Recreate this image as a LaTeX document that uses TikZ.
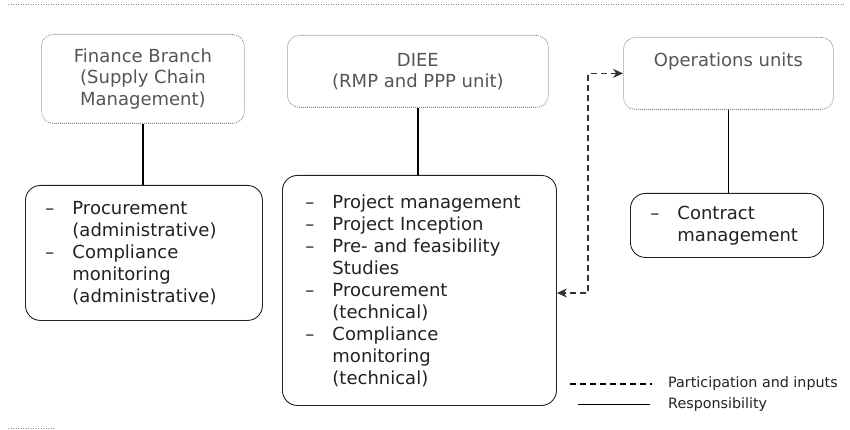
\documentclass[tikz,border=0pt]{standalone}
\usepackage{fontspec}
\setmainfont{DejaVu Sans}
\usetikzlibrary{arrows.meta,calc}

\definecolor{headink}{HTML}{555555}
\definecolor{headrule}{HTML}{8A8A8A}
\definecolor{bodyink}{HTML}{222222}

\newlength{\dashgap}
\setlength{\dashgap}{27pt}
\newcommand{\itemdash}{\makebox[\dashgap][l]{–}}
\newcommand{\itemcont}{\hspace*{\dashgap}}

\tikzset{
  unitbox/.style={draw=headrule, dash pattern=on 1pt off 1pt, line width=0.8pt,
    rounded corners=12pt, align=center, text=headink, anchor=north west,
    font=\fontsize{18}{21.5}\selectfont, inner sep=0pt},
  dutybox/.style={draw=bodyink, line width=0.9pt, rounded corners=15pt,
    align=left, anchor=north west, text=bodyink,
    font=\fontsize{18}{22}\selectfont, inner ysep=0pt},
  duty/.style={line width=1.4pt, draw=black},
  inputs/.style={line width=1.1pt, draw=black!80, dash pattern=on 6pt off 4pt,
    {Stealth[length=10pt,width=9pt]}-{Stealth[length=10pt,width=9pt]}},
  keytext/.style={anchor=west, text=bodyink, font=\fontsize{14.3}{16}\selectfont, inner sep=0pt},
  pagerule/.style={draw=headrule, dash pattern=on 1pt off 1.5pt, line width=0.6pt}
}

\begin{document}
\begin{tikzpicture}[x=1pt, y=-1pt]
\useasboundingbox (0,0) rectangle (850,430);

% page rules
\coordinate (topL) at (8,4);
\coordinate (topR) at (845,4);
\coordinate (botL) at (8,428);
\coordinate (botR) at (55,428);
\draw[pagerule] (topL) -- (topR);
\draw[pagerule] (botL) -- (botR);

% organisational units
\node[unitbox, minimum width=203pt, minimum height=89pt] (fin) at (41,34)
  {Finance Branch\\(Supply Chain\\Management)};
\node[unitbox, minimum width=261pt, minimum height=72pt] (diee) at (287,35)
  {DIEE\\(RMP and PPP unit)};
\node[unitbox, minimum width=210pt, minimum height=72pt] (ops) at (623,37)
  {Operations units\\\strut};

% duties of each unit
\node[dutybox, minimum width=237pt, minimum height=135pt, inner xsep=20pt,
  text width=197pt] (finlist) at (25,185)
  {\itemdash Procurement\\\itemcont(administrative)\\
   \itemdash Compliance\\\itemcont monitoring\\\itemcont(administrative)};
\node[dutybox, minimum width=274pt, minimum height=230pt, inner xsep=23pt,
  text width=228pt] (dieelist) at (282,175)
  {\itemdash Project management\\\itemdash Project Inception\\
   \itemdash Pre- and feasibility\\\itemcont Studies\\
   \itemdash Procurement\\\itemcont(technical)\\
   \itemdash Compliance\\\itemcont monitoring\\\itemcont(technical)};
\node[dutybox, minimum width=193pt, minimum height=64pt, inner xsep=20pt,
  text width=153pt] (conlist) at (630,193)
  {\itemdash Contract\\\itemcont management};

% responsibility links
\draw[duty] (fin.south) -- (fin.south |- finlist.north);
\draw[duty] (diee.south) -- (diee.south |- dieelist.north);
\draw[duty] (ops.south) -- (ops.south |- conlist.north);

% participation and inputs
\coordinate (jog) at (588,293);
\draw[inputs] (ops.west) -| (jog) -- (jog -| dieelist.east);

% key
\coordinate (k1a) at (570,384);
\coordinate (k1b) at (652,384);
\coordinate (k2a) at (578,404);
\coordinate (k2b) at (650,404);
\draw[line width=1.1pt, dash pattern=on 6pt off 4pt] (k1a) -- (k1b);
\draw[line width=0.9pt] (k2a) -- (k2b);
\node[keytext] (k1t) at (668,384) {Participation and inputs};
\node[keytext] (k2t) at (668,405) {Responsibility};
\end{tikzpicture}
\end{document}
